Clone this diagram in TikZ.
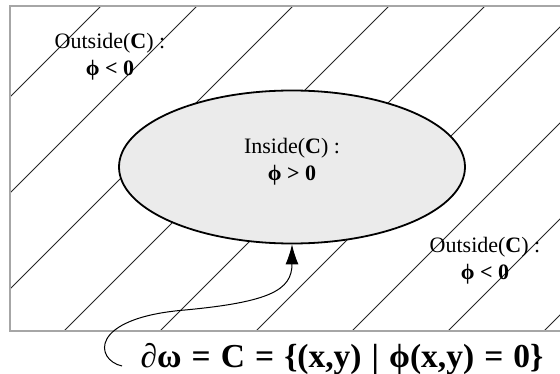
\documentclass[tikz,border=0pt]{standalone}
\usepackage{fontspec}
\setmainfont{Liberation Serif}
\usetikzlibrary{shapes.geometric,arrows.meta}
\newcommand{\widesp}{\spaceskip=0.3em plus 0.1em\relax}
\begin{document}
\begin{tikzpicture}[x=1pt,y=-1pt,
  hatch/.style={line width=0.8pt, black!85},
  frame/.style={draw=black!35, line width=1.5pt},
  region/.style={ellipse, draw=black, line width=1.8pt, fill=black!8, minimum width=346pt, minimum height=153pt, inner sep=0pt},
  lbl/.style={align=center, font=\fontsize{22}{27}\selectfont, inner sep=0pt},
  formula/.style={font=\fontsize{33.5}{36}\selectfont\bfseries, inner sep=0pt},
  pointer/.style={line width=1pt, -{Latex[length=20pt,width=13pt]}}]
\useasboundingbox (0,0) rectangle (560,374);
\fill[white] (0,0) rectangle (560,374);
\begin{scope}
  \clip (10,6) rectangle (565,331);
  \foreach \k in {-4,...,9} \draw[hatch] ({101+96*\k},6) -- ++(-400,400);
\end{scope}
\draw[frame] (565,6) -- (10,6) -- (10,331) -- (565,331);
\node[region] (C) at (292,167) {};
\node[lbl] (inside) at (292,162) {Inside(\textbf{C}) :\\\textbf{ϕ > 0}};
\node[lbl] (outA) at (110,57) {Outside(\textbf{C}) :\\\textbf{ϕ < 0}};
\node[lbl] (outB) at (485,261) {Outside(\textbf{C}) :\\\textbf{ϕ < 0}};
\node[formula] (F) at (342,359) {\widesp{\mdseries ∂}ω = C = \{(x,y) | ϕ(x,y) = 0\}};
\coordinate (s) at (122,366);
\draw[pointer] (s) .. controls (95,360) and (88,318) .. (185,310) .. controls (270,302) and (292,290) .. (C.south);
\end{tikzpicture}
\end{document}
